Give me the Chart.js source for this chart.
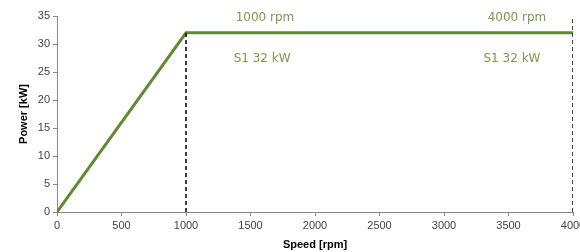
<!DOCTYPE html>
<html>
<head>
<meta charset="utf-8">
<script src="https://cdn.jsdelivr.net/npm/chart.js@4"></script>
<style>
  html, body { margin: 0; padding: 0; background: #fff; overflow: hidden; }
  #wrap { width: 580px; height: 252px; }
</style>
</head>
<body>
<div id="wrap"><canvas id="powerChart"></canvas></div>
<script>
// power curve (speed rpm / power kW)
var speed = [0, 1000, 4000];
var power = [0, 32, 32];

// dashed markers at base speed and max speed
var markSpeed = [1000, 4000];
var markTop = [32, 34.5];

// text notes, in data units
var noteText = ["1000 rpm", "S1 32 kW", "4000 rpm", "S1 32 kW"];
var noteX = [1612, 1590, 3566, 3527];
var noteY = [34.6, 27.3, 34.6, 27.3];

var xTicks = [0, 500, 1000, 1500, 2000, 2500, 3000, 3500, 4000];
var yTicks = [0, 5, 10, 15, 20, 25, 30, 35];

var green = 'rgb(94, 139, 50)';
var noteColor = 'rgb(122, 153, 74)';
var axisColor = '#888';
var tickFont = { family: "'Liberation Sans', Arial, sans-serif", size: 11 };
var titleFont = { family: "'Liberation Sans', Arial, sans-serif", size: 11, weight: 'bold' };

var curve = speed.map(function (s, i) { return { x: s, y: power[i] }; });

var datasets = [];
markSpeed.forEach(function (s, i) {
  datasets.push({
    data: [{ x: s, y: 0 }, { x: s, y: markTop[i] }],
    borderColor: '#000',
    borderWidth: 1.5,
    borderDash: [4, 3],
    pointRadius: 0,
    showLine: true,
    fill: false
  });
});
datasets.push({
  data: curve,
  borderColor: green,
  borderWidth: 3,
  pointRadius: 0,
  showLine: true,
  fill: false,
  tension: 0
});

// draws the green notes through the scales
var notesPlugin = {
  id: 'notes',
  afterDatasetsDraw: function (chart) {
    var ctx = chart.ctx;
    var xs = chart.scales.x, ys = chart.scales.y;
    ctx.save();
    ctx.fillStyle = noteColor;
    ctx.font = "12px 'DejaVu Sans', Verdana, sans-serif";
    ctx.textAlign = 'center';
    ctx.textBaseline = 'middle';
    for (var i = 0; i < noteText.length; i++) {
      ctx.fillText(noteText[i], xs.getPixelForValue(noteX[i]), ys.getPixelForValue(noteY[i]));
    }
    ctx.restore();
  }
};

function noPad(scale) {
  scale.paddingLeft = 0;
  scale.paddingRight = 0;
  scale.paddingTop = 0;
  scale.paddingBottom = 0;
}

function plain(v) { return String(v); }

var ctx = document.getElementById('powerChart').getContext('2d');
var powerChart = new Chart(ctx, {
  type: 'scatter',
  data: { datasets: datasets },
  options: {
    responsive: true,
    maintainAspectRatio: false,
    animation: false,
    layout: { padding: { top: 16, right: 7, left: 0, bottom: 0 } },
    plugins: {
      legend: { display: false },
      tooltip: { enabled: false }
    },
    scales: {
      x: {
        type: 'linear',
        min: 0,
        max: 4000,
        afterBuildTicks: function (scale) {
          scale.ticks = xTicks.map(function (v) { return { value: v }; });
        },
        afterFit: function (scale) {
          noPad(scale);
          scale.height = 40;
        },
        grid: { display: true, drawOnChartArea: false, drawTicks: true, tickLength: 4, color: axisColor },
        border: { color: axisColor, width: 1 },
        ticks: { color: '#444', font: tickFont, padding: 3, maxRotation: 0, autoSkip: false, callback: plain },
        title: {
          display: true,
          text: 'Speed [rpm]',
          color: '#000',
          font: titleFont,
          padding: { top: 0, bottom: 0 }
        }
      },
      y: {
        min: 0,
        max: 35,
        afterBuildTicks: function (scale) {
          scale.ticks = yTicks.map(function (v) { return { value: v }; });
        },
        afterFit: function (scale) {
          noPad(scale);
          scale.width = 57;
        },
        grid: { display: true, drawOnChartArea: false, drawTicks: true, tickLength: 4, color: axisColor },
        border: { color: axisColor, width: 1 },
        ticks: { color: '#444', font: tickFont, padding: 3, autoSkip: false, callback: plain },
        title: {
          display: true,
          text: 'Power [kW]',
          color: '#000',
          font: titleFont,
          padding: { top: 17, bottom: 0 }
        }
      }
    }
  },
  plugins: [notesPlugin]
});
</script>
</body>
</html>
